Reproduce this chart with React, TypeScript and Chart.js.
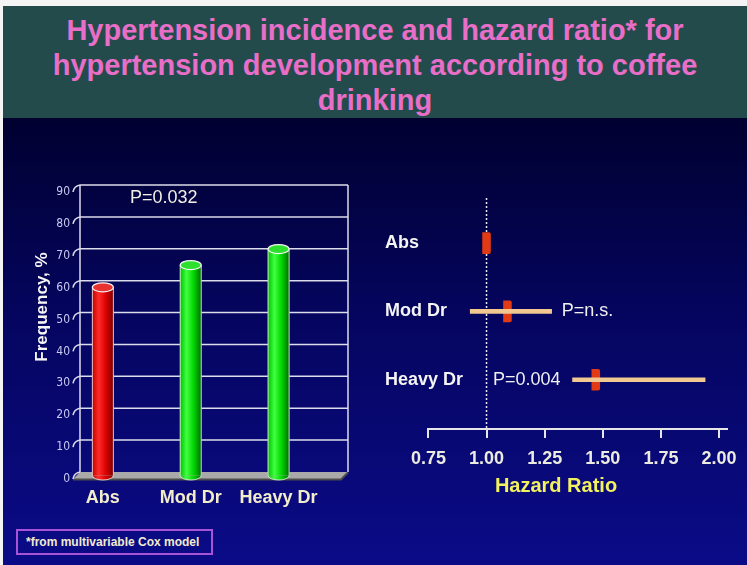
import React, { useEffect, useRef } from 'react';
import { Chart, registerables } from 'chart.js';

Chart.register(...registerables);

// ---------- data ----------
const titleLines = [
  'Hypertension incidence and hazard ratio* for',
  'hypertension development according to coffee',
  'drinking',
];

const incidenceCategories = ['Abs', 'Mod Dr', 'Heavy Dr'];
const incidenceValues = [59, 66, 71];
const incidenceColorKeys = ['red', 'green', 'green'];
const frequencyTicks = [0, 10, 20, 30, 40, 50, 60, 70, 80, 90];
const frequencyAxisTitle = 'Frequency, %';
const incidencePText = 'P=0.032';

const hrCategories = ['Abs', 'Mod Dr', 'Heavy Dr'];
const hrEstimate = [1.0, 1.09, 1.47];
const hrLower = [null, 0.93, 1.37];
const hrUpper = [null, 1.28, 1.94];
const hrPText = ['', 'P=n.s.', 'P=0.004'];
const hrPSide = ['', 'right', 'left'];
const hrTicks = [0.75, 1.0, 1.25, 1.5, 1.75, 2.0];
const hrAxisTitle = 'Hazard Ratio';

const footnoteText = '*from multivariable Cox model';

// ---------- styles ----------
const SANS = "'Liberation Sans', Arial, Helvetica, sans-serif";
const NARROW = "'Liberation Sans Narrow', 'DejaVu Sans Condensed', 'Liberation Sans', sans-serif";
const DEPTH = 3.5;
const BAR_W = 21;
const ELL_RY = 4.5;
const MARK_HALF = 0.017;

const cylPalette: Record<string, { stops: string[]; top: string }> = {
  red: { stops: ['#c40000', '#ff2b2b', '#dc0000', '#7a0000'], top: '#e83232' },
  green: { stops: ['#00c400', '#40ff40', '#00d400', '#006e00'], top: '#2ee02e' },
};

function cylGradient(ctx: CanvasRenderingContext2D, cx: number, key: string) {
  const g = ctx.createLinearGradient(cx - BAR_W / 2, 0, cx + BAR_W / 2, 0);
  const s = cylPalette[key].stops;
  g.addColorStop(0, s[0]);
  g.addColorStop(0.3, s[1]);
  g.addColorStop(0.65, s[2]);
  g.addColorStop(1, s[3]);
  return g;
}

const cylinderPlugin = {
  id: 'cylinder3d',
  beforeDatasetsDraw(chart: any) {
    const { ctx, chartArea: a, scales } = chart;
    const y = scales.y;
    const y0 = y.getPixelForValue(0);
    const yTop = y.getPixelForValue(frequencyTicks[frequencyTicks.length - 1]);
    ctx.save();
    // floor
    ctx.beginPath();
    ctx.moveTo(a.left + DEPTH, y0 - DEPTH);
    ctx.lineTo(a.right + DEPTH, y0 - DEPTH);
    ctx.lineTo(a.right - DEPTH, y0 + DEPTH);
    ctx.lineTo(a.left - DEPTH, y0 + DEPTH);
    ctx.closePath();
    ctx.fillStyle = '#a9a9a9';
    ctx.fill();
    ctx.strokeStyle = '#4c4c4c';
    ctx.lineWidth = 2;
    ctx.beginPath();
    ctx.moveTo(a.left - DEPTH, y0 + DEPTH + 0.5);
    ctx.lineTo(a.right - DEPTH, y0 + DEPTH + 0.5);
    ctx.lineTo(a.right + DEPTH, y0 - DEPTH + 0.5);
    ctx.stroke();
    // back-plane grid + side connectors
    ctx.strokeStyle = '#dcdcea';
    ctx.lineWidth = 1.5;
    frequencyTicks.forEach((v) => {
      const yy = y.getPixelForValue(v) - DEPTH;
      if (v > 0) {
        ctx.beginPath();
        ctx.moveTo(a.left + DEPTH, yy);
        ctx.lineTo(a.right + DEPTH, yy);
        ctx.stroke();
      }
      ctx.beginPath();
      ctx.moveTo(a.left - DEPTH, yy + 2 * DEPTH);
      ctx.quadraticCurveTo(a.left - DEPTH + 1, yy + 1, a.left + DEPTH, yy);
      ctx.stroke();
    });
    ctx.beginPath();
    ctx.moveTo(a.left + DEPTH, yTop - DEPTH);
    ctx.lineTo(a.left + DEPTH, y0 - DEPTH);
    ctx.moveTo(a.right + DEPTH, yTop - DEPTH);
    ctx.lineTo(a.right + DEPTH, y0 - DEPTH);
    ctx.stroke();
    ctx.restore();
  },
  afterDatasetsDraw(chart: any) {
    const { ctx } = chart;
    const meta = chart.getDatasetMeta(0);
    ctx.save();
    meta.data.forEach((bar: any, i: number) => {
      const { x, y, base, width } = bar.getProps(['x', 'y', 'base', 'width'], true);
      const rx = width / 2;
      const key = incidenceColorKeys[i];
      // rounded bottom
      ctx.beginPath();
      ctx.ellipse(x, base, rx, ELL_RY, 0, 0, Math.PI);
      ctx.fillStyle = cylGradient(ctx, x, key);
      ctx.fill();
      // outlines
      ctx.strokeStyle = 'rgba(235,235,235,0.85)';
      ctx.lineWidth = 1;
      ctx.beginPath();
      ctx.moveTo(x - rx, y);
      ctx.lineTo(x - rx, base);
      ctx.ellipse(x, base, rx, ELL_RY, 0, Math.PI, 0, true);
      ctx.lineTo(x + rx, y);
      ctx.stroke();
      // top
      ctx.beginPath();
      ctx.ellipse(x, y, rx, ELL_RY, 0, 0, Math.PI * 2);
      ctx.fillStyle = cylPalette[key].top;
      ctx.fill();
      ctx.strokeStyle = '#f4f4f4';
      ctx.lineWidth = 1.2;
      ctx.stroke();
    });
    ctx.restore();
  },
  afterDraw(chart: any) {
    const { ctx } = chart;
    ctx.save();
    // P value
    ctx.font = `18px ${SANS}`;
    ctx.fillStyle = '#f2f0e2';
    ctx.textAlign = 'left';
    ctx.textBaseline = 'middle';
    ctx.fillText(incidencePText, 130, 48);
    // axis title
    ctx.translate(42, 157);
    ctx.rotate(-Math.PI / 2);
    ctx.textAlign = 'center';
    ctx.font = `bold 17px ${SANS}`;
    ctx.fillStyle = '#f6f6f6';
    ctx.fillText(frequencyAxisTitle, 0, 0);
    ctx.restore();
  },
};

const forestPlugin = {
  id: 'forestExtras',
  beforeDatasetsDraw(chart: any) {
    const { ctx, chartArea: a, scales } = chart;
    const xr = scales.x.getPixelForValue(1);
    ctx.save();
    ctx.strokeStyle = '#e8e8f2';
    ctx.lineWidth = 1.5;
    ctx.setLineDash([2, 2]);
    ctx.beginPath();
    ctx.moveTo(xr, a.top);
    ctx.lineTo(xr, a.bottom);
    ctx.stroke();
    ctx.restore();
  },
  afterDatasetsDraw(chart: any) {
    const { ctx, scales } = chart;
    ctx.save();
    ctx.font = `18px ${SANS}`;
    ctx.fillStyle = '#f0f0f0';
    ctx.textBaseline = 'middle';
    hrCategories.forEach((_, i) => {
      const side = hrPSide[i];
      if (!side || hrLower[i] == null || hrUpper[i] == null) return;
      const yy = scales.y.getPixelForValue(i);
      if (side === 'right') {
        ctx.textAlign = 'left';
        ctx.fillText(hrPText[i], scales.x.getPixelForValue(hrUpper[i] as number) + 10, yy);
      } else {
        ctx.textAlign = 'right';
        ctx.fillText(hrPText[i], scales.x.getPixelForValue(hrLower[i] as number) - 12, yy);
      }
    });
    ctx.restore();
  },
  afterDraw(chart: any) {
    const { ctx } = chart;
    ctx.save();
    ctx.font = `bold 20px ${SANS}`;
    ctx.fillStyle = '#f2f25e';
    ctx.textAlign = 'center';
    ctx.textBaseline = 'middle';
    ctx.fillText(hrAxisTitle, 186, 336);
    ctx.restore();
  },
};

export default function App() {
  const leftRef = useRef<HTMLCanvasElement | null>(null);
  const rightRef = useRef<HTMLCanvasElement | null>(null);

  useEffect(() => {
    const charts: Chart[] = [];
    if (leftRef.current) {
      charts.push(
        new Chart(leftRef.current, {
          type: 'bar',
          data: {
            datasets: [
              {
                label: 'Frequency',
                data: incidenceValues.map((v, i) => ({ x: i, y: v })),
                backgroundColor: (c: any) => {
                  const chart = c.chart;
                  if (!chart.chartArea || c.type !== 'data') return '#00c000';
                  const cx = chart.scales.x.getPixelForValue(c.raw.x);
                  return cylGradient(chart.ctx, cx, incidenceColorKeys[c.dataIndex]);
                },
                borderWidth: 0,
                barThickness: BAR_W,
              } as any,
            ],
          },
          options: {
            animation: false,
            responsive: false,
            maintainAspectRatio: false,
            layout: { padding: { top: 38.5, right: 25.5, left: 0, bottom: 0 } },
            plugins: { legend: { display: false }, tooltip: { enabled: false } },
            scales: {
              x: {
                type: 'linear',
                offset: false,
                min: -0.3,
                max: 2.75,
                afterBuildTicks: (s: any) => {
                  s.ticks = incidenceCategories.map((_, i) => ({ value: i }));
                },
                afterFit: (s: any) => {
                  s.height = 44.5;
                },
                grid: { display: false, drawTicks: false },
                border: { display: false },
                ticks: {
                  autoSkip: false,
                  maxRotation: 0,
                  padding: 12,
                  color: '#f2eecb',
                  font: { family: SANS, size: 18, weight: 'bold' },
                  callback: (v: any) => incidenceCategories[v] ?? '',
                },
              },
              y: {
                type: 'linear',
                min: 0,
                max: 90,
                afterBuildTicks: (s: any) => {
                  s.ticks = frequencyTicks.map((v) => ({ value: v }));
                },
                afterFit: (s: any) => {
                  s.width = 76.5;
                },
                grid: { display: false, drawTicks: false },
                border: { display: false },
                ticks: {
                  padding: 6.5,
                  labelOffset: DEPTH,
                  color: '#c9c9f2',
                  font: { family: NARROW, size: 12 },
                },
              },
            },
          } as any,
          plugins: [cylinderPlugin as any],
        })
      );
    }
    if (rightRef.current) {
      charts.push(
        new Chart(rightRef.current, {
          type: 'bar',
          data: {
            datasets: [
              {
                label: '95% CI',
                data: hrCategories
                  .map((_, i) => ({ y: i, x: [hrLower[i], hrUpper[i]] }))
                  .filter((d) => d.x[0] != null && d.x[1] != null),
                backgroundColor: '#f1c88f',
                barThickness: 4,
                grouped: false,
                borderWidth: 0,
              } as any,
              {
                label: 'Hazard ratio',
                data: hrEstimate.map((v, i) => ({ y: i, x: [v - MARK_HALF, v + MARK_HALF] })),
                backgroundColor: '#e23a14',
                barThickness: 21,
                grouped: false,
                borderWidth: 0,
                borderRadius: 2,
              } as any,
            ],
          },
          options: {
            indexAxis: 'y',
            animation: false,
            responsive: false,
            maintainAspectRatio: false,
            layout: { padding: { top: 48, right: 17, left: 15, bottom: 0 } },
            plugins: { legend: { display: false }, tooltip: { enabled: false } },
            scales: {
              x: {
                type: 'linear',
                min: 0.75,
                max: 2.034,
                afterBuildTicks: (s: any) => {
                  s.ticks = hrTicks.map((v) => ({ value: v }));
                },
                afterFit: (s: any) => {
                  s.height = 91;
                },
                grid: {
                  display: true,
                  drawOnChartArea: false,
                  drawTicks: true,
                  tickLength: 9,
                  color: '#e6e6e6',
                  lineWidth: 2,
                },
                border: { display: true, color: '#e6e6e6', width: 2 },
                ticks: {
                  autoSkip: false,
                  maxRotation: 0,
                  padding: 10,
                  color: '#ecebe0',
                  font: { family: SANS, size: 18, weight: 'bold' },
                  callback: (v: any) => Number(v).toFixed(2),
                },
              },
              y: {
                type: 'linear',
                offset: false,
                reverse: true,
                min: -0.66,
                max: 2.72,
                afterBuildTicks: (s: any) => {
                  s.ticks = hrCategories.map((_, i) => ({ value: i }));
                },
                afterFit: (s: any) => {
                  s.width = 43.4;
                },
                grid: { display: false, drawTicks: false },
                border: { display: false },
                ticks: {
                  mirror: true,
                  padding: -43.4,
                  color: '#f4f4f4',
                  font: { family: SANS, size: 18, weight: 'bold' },
                  callback: (v: any) => hrCategories[v] ?? '',
                },
              },
            },
          } as any,
          plugins: [forestPlugin as any],
        })
      );
    }
    return () => charts.forEach((c) => c.destroy());
  }, []);

  return (
    <div
      style={{
        position: 'absolute',
        left: 0,
        top: 0,
        width: 747,
        height: 565,
        overflow: 'hidden',
        background: '#f4f4f4',
        fontFamily: SANS,
      }}
    >
      <div
        style={{
          position: 'absolute',
          left: 3,
          top: 6,
          width: 744,
          height: 112,
          background: '#244b4b',
        }}
      >
        <div
          style={{
            position: 'absolute',
            left: 0,
            top: 7,
            width: 744,
            textAlign: 'center',
            color: '#e86ec8',
            fontWeight: 'bold',
            fontSize: 29,
            lineHeight: '35px',
            whiteSpace: 'nowrap',
          }}
        >
          {titleLines.map((t, i) => (
            <div key={i}>{t}</div>
          ))}
        </div>
      </div>
      <div
        style={{
          position: 'absolute',
          left: 3,
          top: 118,
          width: 744,
          height: 447,
          background: 'linear-gradient(180deg, #000030 0%, #050560 45%, #0b0b88 100%)',
        }}
      />
      <canvas
        ref={leftRef}
        width={370}
        height={370}
        style={{ position: 'absolute', left: 0, top: 150, width: 370, height: 370 }}
      />
      <canvas
        ref={rightRef}
        width={377}
        height={370}
        style={{ position: 'absolute', left: 370, top: 150, width: 377, height: 370 }}
      />
      <div
        style={{
          position: 'absolute',
          left: 16,
          top: 529,
          width: 197,
          height: 26,
          boxSizing: 'border-box',
          border: '2px solid #a852d8',
          color: '#f2ead0',
          fontWeight: 'bold',
          fontSize: 12,
          lineHeight: '22px',
          paddingLeft: 8,
          whiteSpace: 'nowrap',
        }}
      >
        {footnoteText}
      </div>
    </div>
  );
}
